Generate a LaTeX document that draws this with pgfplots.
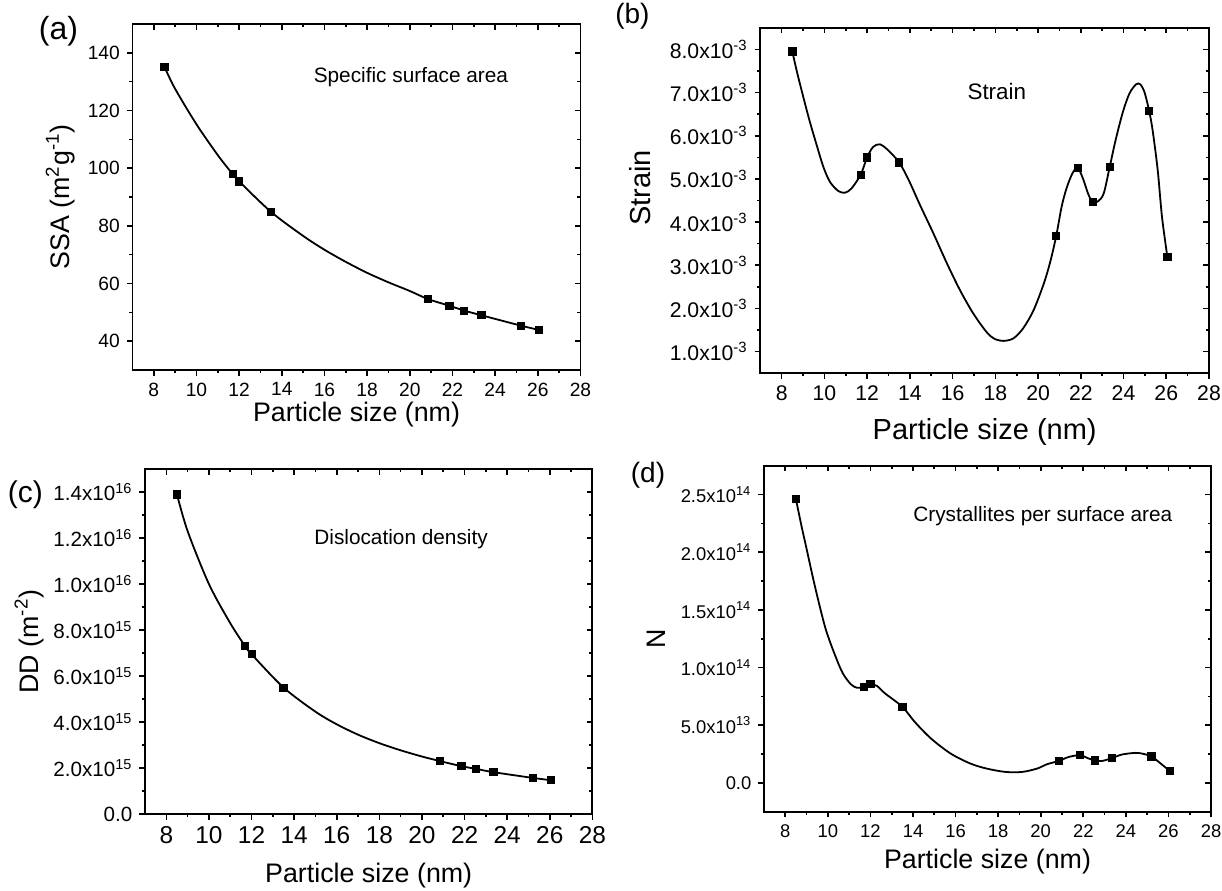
\documentclass[border=0pt]{standalone}
\usepackage{fontspec}
\setmainfont{Liberation Sans}
\usepackage{pgfplots}
\pgfplotsset{compat=1.18}

\newcommand{\fs}[1]{\fontsize{#1}{#1}\selectfont}

\pgfplotsset{
  panel/.style={scale only axis, anchor=north west,
    xmin=7, xmax=28, xtick={8,10,...,28},
    minor x tick num=1, minor y tick num=1,
    axis line style={line width=0.9pt},
    tick style={line width=0.8pt, black},
    major tick length=2.8pt, minor tick length=1.6pt,
    scaled y ticks=false,
    /pgf/number format/assume math mode=true},
  lowerticks/.style={tick align=outside, xtick pos=left, ytick pos=left},
  upperticks/.style={tick align=inside, xtick pos=right, ytick pos=right,
    xticklabels={}, yticklabels={}},
  curve/.style={black, line width=0.9pt, smooth, no marks},
  pts/.style={black, only marks, mark=square*, mark size=1.8pt},
}

\begin{document}
\begin{tikzpicture}
\useasboundingbox (0pt,0pt) rectangle (611pt,-445pt);

% (a) specific surface area
\begin{axis}[panel, lowerticks, at={(66.25pt,-12pt)}, width=224pt, height=173pt,
  ymin=30, ymax=150, ytick={40,60,...,140},
  tick label style={font=\fs{9.6}},
  xlabel={Particle size (nm)}, ylabel={SSA (m\textsuperscript{2}g\textsuperscript{-1})},
  label style={font=\fs{13.4}},
  xlabel style={at={(axis description cs:0.5,-0.13)}, anchor=center},
  ylabel style={at={(axis description cs:-0.161,0.5)}, anchor=center}]
\addplot[curve] table {
8.5 135.1
9 127.5
10 115.2
11 104.5
11.7 97.9
12.0 95.4
13.5 84.8
15 76.5
16 71.7
17 67.5
18 63.7
19 60.4
20 57.4
20.85 54.6
21.85 52.3
22.55 50.6
23.35 49.0
25.2 45.4
26.05 43.9
};
\addplot[pts] coordinates {(8.5,135.1) (11.7,97.9) (12.0,95.4) (13.5,84.8) (20.85,54.6)
  (21.85,52.3) (22.55,50.6) (23.35,49.0) (25.2,45.4) (26.05,43.9)};
\node[font=\fs{10.4}] at (axis cs:20.05,131.5) {Specific surface area};
\end{axis}
\begin{axis}[panel, upperticks, at={(66.25pt,-12pt)}, width=224pt, height=173pt,
  ymin=30, ymax=150, ytick={40,60,...,140}]
\end{axis}

% (b) strain
\begin{axis}[panel, lowerticks, at={(380.15pt,-13.85pt)}, width=224.35pt, height=172.8pt,
  ymin=0.5e-3, ymax=8.5e-3, ytick={1e-3,2e-3,3e-3,4e-3,5e-3,6e-3,7e-3,8e-3},
  yticklabels={1.0x10\textsuperscript{-3},2.0x10\textsuperscript{-3},3.0x10\textsuperscript{-3},
    4.0x10\textsuperscript{-3},5.0x10\textsuperscript{-3},6.0x10\textsuperscript{-3},
    7.0x10\textsuperscript{-3},8.0x10\textsuperscript{-3}},
  tick label style={font=\fs{10.6}},
  xlabel={Particle size (nm)}, ylabel={Strain},
  label style={font=\fs{14.5}},
  xlabel style={at={(axis description cs:0.5,-0.17)}, anchor=center},
  ylabel style={at={(axis description cs:-0.268,0.536)}, anchor=center}]
\addplot[curve] table {
8.5 7.95e-3
8.7 7.51e-3
9.01 6.9e-3
9.32 6.32e-3
9.64 5.78e-3
9.95 5.28e-3
10.26 4.93e-3
10.65 4.72e-3
10.96 4.68e-3
11.27 4.78e-3
11.7 5.1e-3
12.0 5.5e-3
12.28 5.74e-3
12.6 5.8e-3
12.99 5.66e-3
13.5 5.38e-3
13.93 4.99e-3
14.47 4.4e-3
15.1 3.74e-3
15.72 3.06e-3
16.34 2.43e-3
16.96 1.89e-3
17.58 1.46e-3
17.95 1.3e-3
18.39 1.25e-3
18.85 1.31e-3
19.3 1.54e-3
19.78 1.95e-3
20.25 2.55e-3
20.56 3.06e-3
20.85 3.68e-3
21.1 4.35e-3
21.33 4.78e-3
21.6 5.12e-3
21.85 5.26e-3
22.1 5.01e-3
22.34 4.66e-3
22.55 4.46e-3
22.8 4.48e-3
23.07 4.66e-3
23.35 5.27e-3
23.63 5.9e-3
23.97 6.55e-3
24.28 6.98e-3
24.59 7.19e-3
24.78 7.19e-3
24.98 7.01e-3
25.2 6.57e-3
25.36 6.13e-3
25.6 5.2e-3
25.8 4.12e-3
26.05 3.2e-3
};
\addplot[pts] coordinates {(8.5,7.95e-3) (11.7,5.1e-3) (12.0,5.5e-3) (13.5,5.38e-3) (20.85,3.68e-3)
  (21.85,5.26e-3) (22.55,4.46e-3) (23.35,5.27e-3) (25.2,6.57e-3) (26.05,3.2e-3)};
\node[font=\fs{11.2}] at (axis cs:18.07,7.02e-3) {Strain};
\end{axis}
\begin{axis}[panel, upperticks, at={(380.15pt,-13.85pt)}, width=224.35pt, height=172.8pt,
  ymin=0.5e-3, ymax=8.5e-3, ytick={1e-3,2e-3,3e-3,4e-3,5e-3,6e-3,7e-3,8e-3}]
\end{axis}

% (c) dislocation density
\begin{axis}[panel, lowerticks, at={(72.5pt,-234.5pt)}, width=223.7pt, height=172.5pt,
  ymin=0, ymax=1.5e16, ytick={0,2e15,4e15,6e15,8e15,1e16,1.2e16,1.4e16},
  yticklabels={0.0,2.0x10\textsuperscript{15},4.0x10\textsuperscript{15},6.0x10\textsuperscript{15},
    8.0x10\textsuperscript{15},1.0x10\textsuperscript{16},1.2x10\textsuperscript{16},1.4x10\textsuperscript{16}},
  yticklabel style={font=\fs{10.3}}, xticklabel style={font=\fs{12.2}},
  xlabel={Particle size (nm)}, ylabel={DD (m\textsuperscript{-2})},
  label style={font=\fs{13.4}},
  xlabel style={at={(axis description cs:0.5,-0.177)}, anchor=center},
  ylabel style={at={(axis description cs:-0.259,0.5)}, anchor=center}]
\addplot[curve] table {
8.5 1.39e16
9 1.23e16
10 1.0e16
11 8.3e15
11.7 7.3e15
12.0 6.95e15
13.5 5.5e15
15 4.45e15
16 3.9e15
17 3.45e15
18 3.08e15
19 2.77e15
20 2.5e15
20.85 2.3e15
21.85 2.08e15
22.55 1.96e15
23.35 1.82e15
25.2 1.57e15
26.05 1.47e15
};
\addplot[pts] coordinates {(8.5,1.39e16) (11.7,7.3e15) (12.0,6.95e15) (13.5,5.5e15) (20.85,2.3e15)
  (21.85,2.08e15) (22.55,1.96e15) (23.35,1.82e15) (25.2,1.57e15) (26.05,1.47e15)};
\node[font=\fs{10.4}] at (axis cs:19.02,1.195e16) {Dislocation density};
\end{axis}
\begin{axis}[panel, upperticks, at={(72.5pt,-234.5pt)}, width=223.7pt, height=172.5pt,
  ymin=0, ymax=1.5e16, ytick={0,2e15,4e15,6e15,8e15,1e16,1.2e16,1.4e16}]
\end{axis}

% (d) crystallites per surface area
\begin{axis}[panel, lowerticks, at={(382pt,-232.85pt)}, width=223.5pt, height=173pt,
  ymin=-0.25e14, ymax=2.75e14, ytick={0,0.5e14,1e14,1.5e14,2e14,2.5e14},
  yticklabels={0.0,5.0x10\textsuperscript{13},1.0x10\textsuperscript{14},1.5x10\textsuperscript{14},
    2.0x10\textsuperscript{14},2.5x10\textsuperscript{14}},
  tick label style={font=\fs{9.2}},
  xlabel={Particle size (nm)}, ylabel={N},
  label style={font=\fs{13.4}},
  xlabel style={at={(axis description cs:0.5,-0.145)}, anchor=center},
  ylabel style={at={(axis description cs:-0.242,0.5)}, anchor=center}]
\addplot[curve] table {
8.5 2.46e14
8.77 2.22e14
9.0 2.03e14
9.31 1.77e14
9.62 1.53e14
9.92 1.32e14
10.31 1.12e14
10.69 0.954e14
11.08 0.855e14
11.38 0.824e14
11.7 0.83e14
12.0 0.855e14
12.31 0.84e14
12.69 0.775e14
13.5 0.66e14
14.08 0.529e14
14.85 0.384e14
15.77 0.254e14
16.69 0.168e14
17.46 0.124e14
18.34 0.095e14
19.13 0.095e14
19.83 0.124e14
20.3 0.162e14
20.85 0.19e14
21.32 0.225e14
21.85 0.24e14
22.2 0.215e14
22.55 0.195e14
22.88 0.19e14
23.35 0.215e14
23.82 0.246e14
24.44 0.26e14
24.76 0.254e14
25.2 0.23e14
25.54 0.182e14
26.05 0.105e14
};
\addplot[pts] coordinates {(8.5,2.46e14) (11.7,0.83e14) (12.0,0.855e14) (13.5,0.66e14) (20.85,0.19e14)
  (21.85,0.24e14) (22.55,0.195e14) (23.35,0.215e14) (25.2,0.23e14) (26.05,0.105e14)};
\node[font=\fs{10.4}] at (axis cs:20.1,2.317e14) {Crystallites per surface area};
\end{axis}
\begin{axis}[panel, upperticks, at={(382pt,-232.85pt)}, width=223.5pt, height=173pt,
  ymin=-0.25e14, ymax=2.75e14, ytick={0,0.5e14,1e14,1.5e14,2e14,2.5e14}]
\end{axis}

% panel letters
\node[font=\fs{16}] at (29.2pt,-15.8pt) {(a)};
\node[font=\fs{14}] at (316.2pt,-8.3pt) {(b)};
\node[font=\fs{15}] at (12.7pt,-247.5pt) {(c)};
\node[font=\fs{14}] at (324pt,-237.5pt) {(d)};
\end{tikzpicture}
\end{document}
